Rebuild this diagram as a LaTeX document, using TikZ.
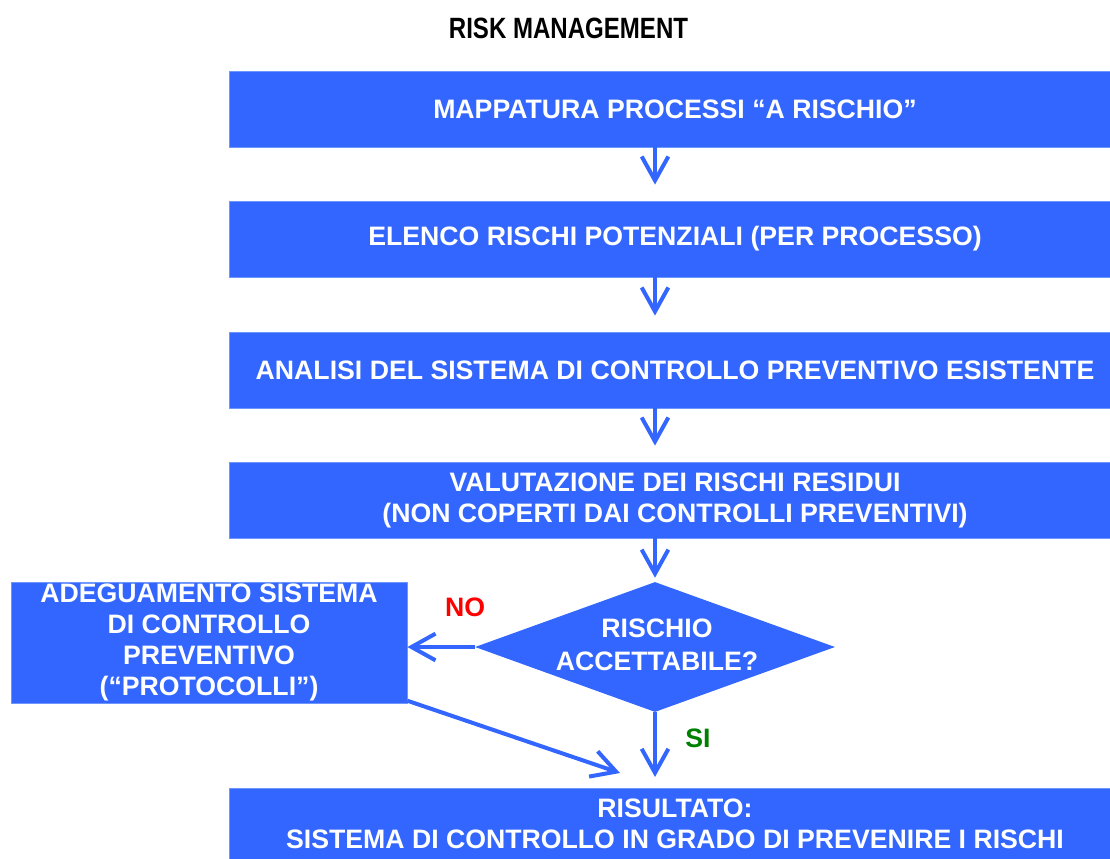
\documentclass[tikz,border=0pt]{standalone}
\usepackage{fontspec}
\setmainfont{Liberation Sans}
\usetikzlibrary{arrows.meta,shapes.geometric}
\definecolor{boxblue}{RGB}{51,102,255}
\definecolor{edgeblue}{RGB}{110,150,255}
\definecolor{sigreen}{RGB}{0,128,0}
\tikzset{
  box/.style={rectangle, fill=boxblue, draw=edgeblue, line width=0.6pt, inner sep=0pt,
    text=white, font=\fontsize{20}{23.25}\selectfont\bfseries, align=center},
  wide/.style={box, minimum width=892*0.75pt},
  dia/.style={diamond, fill=boxblue, draw=none, inner sep=0pt,
    minimum width=360*0.75pt, minimum height=130*0.75pt},
  diatext/.style={text=white, font=\fontsize{20}{24.5}\selectfont\bfseries, align=center, inner sep=0pt},
  arr/.style={draw=boxblue, line width=3pt, -{Straight Barb[length=18pt,width=20pt]}},
  lbl/.style={font=\fontsize{20}{24}\selectfont\bfseries, inner sep=0pt}
}
\begin{document}
\begin{tikzpicture}[x=0.75pt,y=-0.75pt]
\useasboundingbox (0,0) rectangle (1110,859);
\begin{scope}
\clip (0,0) rectangle (1110,859);
\node[lbl, text=black, font=\fontsize{22}{26}\selectfont\bfseries] (title) at (568.5,28) {\scalebox{0.82}[1]{RISK MANAGEMENT}};
\node[wide, minimum height=76*0.75pt] (b1) at (675,109) {MAPPATURA PROCESSI “A RISCHIO”};
\node[wide, minimum height=76*0.75pt] (b2) at (675,239) {ELENCO RISCHI POTENZIALI (PER PROCESSO)};
\node[wide, minimum height=76*0.75pt] (b3) at (675,370) {ANALISI DEL SISTEMA DI CONTROLLO PREVENTIVO ESISTENTE};
\node[wide, minimum height=76*0.75pt] (b4) at (675,500) {VALUTAZIONE DEI RISCHI RESIDUI\\(NON COPERTI DAI CONTROLLI PREVENTIVI)};
\node[dia] (d) at (655,647) {};
\node[diatext] (dt) at (657,645) {RISCHIO\\ACCETTABILE?};
\node[box, minimum width=396*0.75pt, minimum height=121*0.75pt] (L) at (209,642.5) {ADEGUAMENTO SISTEMA\\DI CONTROLLO\\PREVENTIVO\\(“PROTOCOLLI”)};
\node[wide, minimum height=71*0.75pt] (R) at (675,823.5) {RISULTATO:\\SISTEMA DI CONTROLLO IN GRADO DI PREVENIRE I RISCHI};
\coordinate (t) at (620,773);
\draw[arr, shorten >=12pt] (b1.south -| d.north) -- (b2.north -| d.north);
\draw[arr, shorten >=12pt] (b2.south -| d.north) -- (b3.north -| d.north);
\draw[arr, shorten >=12pt] (b3.south -| d.north) -- (b4.north -| d.north);
\draw[arr, shorten >=3pt] (b4.south -| d.north) -- (d.north);
\draw[arr] (d.west) -- (d.west -| L.east);
\draw[arr, shorten >=8pt] (d.south) -- (R.north -| d.south);
\draw[arr] ([yshift=2pt]L.south east) -- (t);
\node[lbl, text=red] (no) at (465,607) {NO};
\node[lbl, text=sigreen] (si) at (698,738) {SI};
\end{scope}
\end{tikzpicture}
\end{document}
